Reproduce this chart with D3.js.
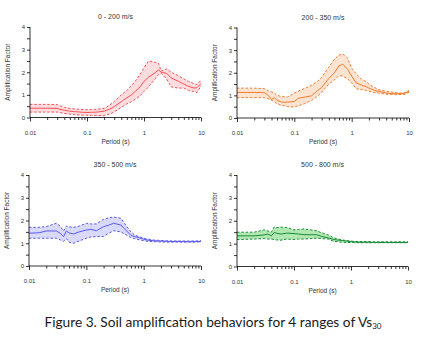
<!DOCTYPE html>
<html>
<head>
<meta charset="utf-8">
<script src="https://cdn.jsdelivr.net/npm/d3@7"></script>
<style>
  body { margin: 0; background: #fff; }
  svg { display: block; }
  .tick text { font-family: "Liberation Sans", Arial, sans-serif; font-size: 6px; fill: #333; }
  .axis path, .axis line { stroke: #000; stroke-width: 0.8; }
</style>
</head>
<body>
<div id="main"></div>
<script>
// data
const periods = [0.01, 0.015, 0.02, 0.03, 0.035, 0.04, 0.045, 0.05, 0.06, 0.075, 0.1, 0.12, 0.15, 0.2, 0.25, 0.3, 0.4, 0.5, 0.6, 0.7, 0.85, 1, 1.2, 1.5, 1.8, 2, 2.5, 3, 4, 5, 6, 7.5, 8.5, 10];

const titles = ['0 - 200 m/s', '200 - 350 m/s', '350 - 500 m/s', '500 - 800 m/s'];
const xTicks = [0.01, 0.1, 1, 10];
const yTicks = [0, 1, 2, 3, 4];

const mean1 = [.41, .41, .41, .40, .35, .32, .30, .28, .26, .24, .22, .23, .24, .28, .37, .48, .70, .87, 1.0, 1.15, 1.35, 1.6, 1.78, 1.95, 2.1, 2.0, 1.95, 1.75, 1.6, 1.48, 1.38, 1.3, 1.32, 1.5];
const upper1 = [.58, .58, .58, .57, .50, .45, .42, .40, .38, .36, .34, .35, .37, .40, .55, .70, 1.0, 1.2, 1.4, 1.6, 1.9, 2.2, 2.5, 2.45, 2.4, 2.05, 2.15, 2.0, 1.85, 1.7, 1.6, 1.5, 1.45, 1.65];
const lower1 = [.24, .24, .24, .24, .21, .18, .16, .15, .13, .11, .10, .09, .09, .08, .15, .25, .45, .6, .7, .8, .95, 1.15, 1.35, 1.65, 1.9, 1.95, 1.7, 1.35, 1.3, 1.3, 1.2, 1.15, 1.1, 1.4];

const mean2 = [1.13, 1.13, 1.13, 1.12, 1.0, .82, .9, .78, .7, .7, .73, .88, .92, .98, 1.2, 1.35, 1.75, 2.0, 2.3, 2.38, 2.15, 1.85, 1.55, 1.45, 1.38, 1.32, 1.22, 1.18, 1.1, 1.08, 1.07, 1.08, 1.1, 1.19];
const upper2 = [1.32, 1.32, 1.32, 1.3, 1.2, 1.15, 1.1, 1.0, .95, .92, 1.1, 1.2, 1.3, 1.45, 1.6, 1.8, 2.25, 2.6, 2.78, 2.83, 2.65, 2.2, 1.95, 1.7, 1.6, 1.5, 1.35, 1.25, 1.18, 1.15, 1.12, 1.1, 1.12, 1.22];
const lower2 = [.9, .9, .9, .9, .85, .78, .72, .63, .56, .51, .48, .55, .63, .78, .95, 1.14, 1.5, 1.68, 1.88, 1.85, 1.73, 1.55, 1.29, 1.25, 1.22, 1.18, 1.12, 1.1, 1.05, 1.04, 1.03, 1.04, 1.05, 1.14];

const mean3 = [1.44, 1.46, 1.54, 1.54, 1.44, 1.29, 1.54, 1.45, 1.41, 1.5, 1.58, 1.61, 1.55, 1.73, 1.8, 1.88, 1.8, 1.55, 1.35, 1.29, 1.24, 1.18, 1.13, 1.11, 1.1, 1.1, 1.08, 1.08, 1.08, 1.07, 1.07, 1.07, 1.08, 1.08];
const upper3 = [1.7, 1.7, 1.73, 1.88, 1.75, 1.54, 1.76, 1.72, 1.7, 1.75, 1.88, 1.85, 1.85, 2.05, 2.12, 2.15, 2.1, 1.75, 1.5, 1.36, 1.28, 1.22, 1.18, 1.14, 1.13, 1.12, 1.11, 1.1, 1.1, 1.1, 1.1, 1.1, 1.1, 1.11];
const lower3 = [1.22, 1.22, 1.22, 1.22, 1.15, 1.08, 1.2, 1.05, 1.0, 1.1, 1.22, 1.28, 1.29, 1.3, 1.45, 1.55, 1.5, 1.36, 1.25, 1.2, 1.15, 1.11, 1.08, 1.07, 1.06, 1.06, 1.05, 1.05, 1.05, 1.05, 1.05, 1.05, 1.05, 1.06];

const mean4 = [1.34, 1.34, 1.34, 1.38, 1.42, 1.34, 1.49, 1.45, 1.42, 1.46, 1.44, 1.42, 1.39, 1.39, 1.39, 1.32, 1.25, 1.18, 1.15, 1.14, 1.11, 1.09, 1.07, 1.06, 1.06, 1.06, 1.05, 1.05, 1.05, 1.05, 1.05, 1.05, 1.05, 1.05];
const upper4 = [1.5, 1.5, 1.5, 1.6, 1.55, 1.5, 1.73, 1.7, 1.72, 1.71, 1.6, 1.62, 1.64, 1.6, 1.56, 1.48, 1.38, 1.25, 1.2, 1.16, 1.13, 1.11, 1.09, 1.09, 1.09, 1.09, 1.08, 1.08, 1.08, 1.08, 1.08, 1.08, 1.08, 1.08];
const lower4 = [1.18, 1.19, 1.2, 1.22, 1.2, 1.2, 1.18, 1.16, 1.15, 1.2, 1.18, 1.2, 1.2, 1.22, 1.24, 1.22, 1.2, 1.1, 1.08, 1.06, 1.05, 1.05, 1.04, 1.04, 1.04, 1.04, 1.04, 1.04, 1.04, 1.04, 1.04, 1.04, 1.04, 1.04];

!(function () {
  'use strict';

  const canvas = { width: 424, height: 339 };

  // panel frames (axis pixel extents) and colours
  const panels = [
    { x0: 30, x1: 201, y0: 117.5, y1: 27, line: '#f5505a', fill: '#ffd9da', mean: mean1, upper: upper1, lower: lower1 },
    { x0: 237, x1: 409, y0: 118, y1: 27.5, line: '#f47c2c', fill: '#fde0cc', mean: mean2, upper: upper2, lower: lower2 },
    { x0: 29, x1: 201, y0: 266, y1: 175, line: '#5a5aee', fill: '#d5d5fb', mean: mean3, upper: upper3, lower: lower3 },
    { x0: 237, x1: 408, y0: 266.5, y1: 175, line: '#1a8a3a', fill: '#a8e6a8', mean: mean4, upper: upper4, lower: lower4 }
  ];

  const svg = d3.select('#main')
    .append('svg')
    .attr('width', canvas.width)
    .attr('height', canvas.height);

  const minorTicks = [];
  [0.01, 0.1, 1].forEach(function (d) {
    for (let k = 2; k <= 9; k++) minorTicks.push(d * k);
  });

  panels.forEach(function (p, i) {
    const x = d3.scaleLog().domain([0.01, 10]).range([p.x0, p.x1]);
    const y = d3.scaleLinear().domain([0, 4]).range([p.y0, p.y1]);
    const g = svg.append('g');

    // band
    const area = d3.area()
      .x(function (d, j) { return x(periods[j]); })
      .y0(function (d, j) { return y(p.lower[j]); })
      .y1(function (d, j) { return y(p.upper[j]); });
    g.append('path')
      .datum(periods)
      .attr('d', area)
      .attr('fill', p.fill)
      .attr('fill-opacity', 0.9);

    const line = function (vals) {
      return d3.line()
        .x(function (d, j) { return x(periods[j]); })
        .y(function (d) { return y(d); })(vals);
    };
    [p.upper, p.lower].forEach(function (vals) {
      g.append('path')
        .attr('d', line(vals))
        .attr('fill', 'none')
        .attr('stroke', p.line)
        .attr('stroke-width', 1)
        .attr('stroke-dasharray', '2.5,1.8');
    });
    g.append('path')
      .attr('d', line(p.mean))
      .attr('fill', 'none')
      .attr('stroke', p.line)
      .attr('stroke-width', 1);

    // x axis
    g.append('g')
      .attr('class', 'axis')
      .attr('transform', 'translate(0,' + p.y0 + ')')
      .call(d3.axisBottom(x).tickValues(xTicks).tickSize(4).tickPadding(9)
        .tickFormat(function (d) { return String(d); }));
    g.append('g')
      .attr('class', 'axis')
      .attr('transform', 'translate(0,' + p.y0 + ')')
      .call(d3.axisBottom(x).tickValues(minorTicks).tickSize(2.5).tickFormat(''))
      .call(function (s) { s.select('.domain').remove(); });

    // y axis
    g.append('g')
      .attr('class', 'axis')
      .attr('transform', 'translate(' + p.x0 + ',0)')
      .call(d3.axisLeft(y).tickValues(d3.range(0, 4.01, 0.5)).tickSize(3).tickPadding(2)
        .tickFormat(function (d) { return yTicks.indexOf(d) >= 0 ? d : ''; }));

    g.selectAll('.domain').attr('d', null);
    g.append('line')
      .attr('x1', p.x0).attr('x2', p.x0).attr('y1', p.y1).attr('y2', p.y0)
      .attr('stroke', '#000').attr('stroke-width', 0.8);
    g.append('line')
      .attr('x1', p.x0).attr('x2', p.x1).attr('y1', p.y0).attr('y2', p.y0)
      .attr('stroke', '#000').attr('stroke-width', 0.8);

    // labels
    const cx = (p.x0 + p.x1) / 2;
    g.append('text')
      .attr('x', cx).attr('y', p.y1 - 8)
      .attr('text-anchor', 'middle')
      .style('font-family', '"Liberation Sans", Arial, sans-serif')
      .style('font-size', '7px')
      .attr('fill', '#333')
      .text(titles[i]);
    g.append('text')
      .attr('x', cx).attr('y', p.y0 + 26)
      .attr('text-anchor', 'middle')
      .style('font-family', '"Liberation Sans", Arial, sans-serif')
      .style('font-size', '6.5px')
      .attr('fill', '#333')
      .text('Period (s)');
    g.append('text')
      .attr('transform', 'translate(' + (p.x0 - 20) + ',' + ((p.y0 + p.y1) / 2) + ') rotate(-90)')
      .attr('text-anchor', 'middle')
      .style('font-family', '"Liberation Sans", Arial, sans-serif')
      .style('font-size', '6.5px')
      .attr('fill', '#333')
      .text('Amplification Factor');
  });

  // caption
  const cap = svg.append('text')
    .attr('x', 213).attr('y', 327)
    .attr('text-anchor', 'middle')
    .style('font-family', 'Lato, "Open Sans", sans-serif')
    .style('font-size', '13.7px')
    .attr('fill', '#1a1a1a');
  cap.append('tspan').text('Figure 3. Soil amplification behaviors for 4 ranges of Vs');
  cap.append('tspan').attr('dy', 2).style('font-size', '8px').text('30');
}());
</script>
</body>
</html>
